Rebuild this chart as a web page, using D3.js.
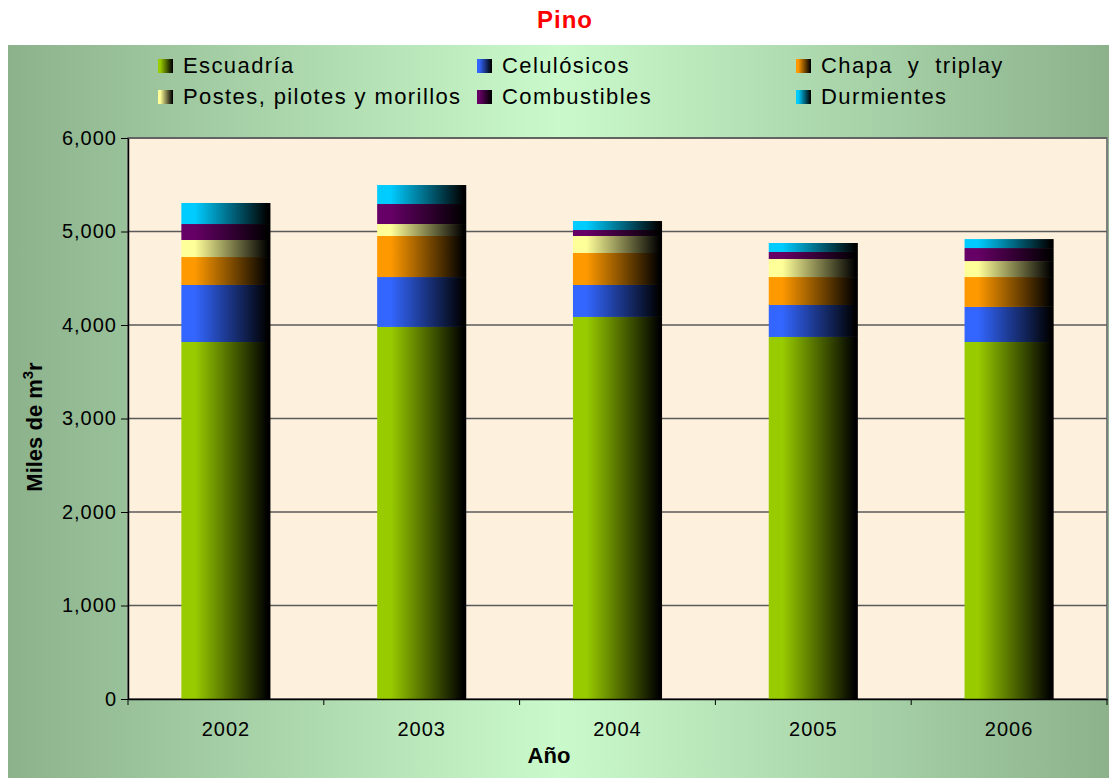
<!DOCTYPE html>
<html>
<head>
<meta charset="utf-8">
<script src="https://cdn.jsdelivr.net/npm/d3@7/dist/d3.min.js"></script>
<style>
  body { margin: 0; background: #fff; }
  text { font-family: Arial, "Liberation Sans", sans-serif; }
</style>
</head>
<body>
<div id="chart"></div>
<script>
// data (miles de m3r)
var years = ["2002", "2003", "2004", "2005", "2006"];
var seriesNames = ["Escuadría", "Celulósicos", "Chapa  y  triplay", "Postes, pilotes y morillos", "Combustibles", "Durmientes"];
var seriesColors = ["#99cc00", "#3366ff", "#ff9900", "#ffff99", "#660066", "#00ccff"];
var escuadria    = [3818, 3979, 4086, 3872, 3818];
var celulosicos  = [610, 534, 342, 342, 375];
var chapa        = [299, 439, 342, 299, 320];
var postes       = [182, 128, 182, 193, 171];
var combustibles = [171, 214, 64, 75, 139];
var durmientes   = [225, 203, 96, 96, 96];
var yTicks = [0, 1000, 2000, 3000, 4000, 5000, 6000];

var W = 1109, H = 778;
var margin = { top: 138, right: 2, bottom: 79, left: 128 };
var pw = W - margin.left - margin.right, ph = H - margin.top - margin.bottom;

var svg = d3.select("#chart").append("svg")
	.attr("width", W)
	.attr("height", H);

var defs = svg.append("defs");

// outer green background
var bgGrad = defs.append("linearGradient").attr("id", "bgGrad")
	.attr("x1", "0%").attr("x2", "100%").attr("y1", "0%").attr("y2", "0%");
bgGrad.append("stop").attr("offset", "0%").attr("stop-color", "#8cb28c");
bgGrad.append("stop").attr("offset", "50%").attr("stop-color", "#cafacb");
bgGrad.append("stop").attr("offset", "100%").attr("stop-color", "#8cb28c");

// bar gradients, colour to black left to right
seriesColors.forEach(function(c, i) {
	var g = defs.append("linearGradient").attr("id", "grad" + i)
		.attr("x1", "0%").attr("x2", "100%").attr("y1", "0%").attr("y2", "0%");
	g.append("stop").attr("offset", "0%").attr("stop-color", c);
	g.append("stop").attr("offset", "15%").attr("stop-color", c);
	g.append("stop").attr("offset", "97%").attr("stop-color", "#000");
	g.append("stop").attr("offset", "100%").attr("stop-color", "#000");
});

svg.append("rect")
	.attr("x", 8).attr("y", 45)
	.attr("width", W - 8).attr("height", H - 45)
	.style("fill", "url(#bgGrad)");

// title
svg.append("text")
	.attr("x", 565).attr("y", 28)
	.attr("text-anchor", "middle")
	.style("font-size", "24px")
	.style("font-weight", "bold")
	.style("letter-spacing", "1px")
	.style("fill", "#ff0000")
	.text("Pino");

// legend
var legendCols = [158, 477, 796], legendRows = [73, 104];
var legend = svg.append("g").attr("class", "legend");
seriesNames.forEach(function(name, i) {
	var lx = legendCols[i % 3], ly = legendRows[Math.floor(i / 3)];
	legend.append("rect")
		.attr("x", lx).attr("y", ly - 14)
		.attr("width", 15).attr("height", 14)
		.style("fill", "url(#grad" + i + ")");
	legend.append("text")
		.attr("x", lx + 25).attr("y", ly)
		.style("font-size", "22px")
		.style("letter-spacing", "1.4px")
		.style("white-space", "pre")
		.style("fill", "#000")
		.text(name);
});

var plot = svg.append("g")
	.attr("transform", "translate(" + margin.left + "," + margin.top + ")");

plot.append("rect")
	.attr("width", pw).attr("height", ph)
	.style("fill", "#fdf0dd")
	.style("stroke", "#808080")
	.style("stroke-width", 2);

var x = d3.scaleBand().domain(years).range([0, pw]).padding(0);
var y = d3.scaleLinear().domain([0, 6000]).range([ph, 0]);

// gridlines
plot.selectAll(".grid")
	.data(yTicks.slice(1))
	.enter().append("line")
	.attr("class", "grid")
	.attr("x1", 0).attr("x2", pw)
	.attr("y1", function(d) { return y(d); })
	.attr("y2", function(d) { return y(d); })
	.style("stroke", "#5a5a5a")
	.style("stroke-width", 1.3);

// stacked bars
var rows = years.map(function(yr, i) {
	return { year: yr, s0: escuadria[i], s1: celulosicos[i], s2: chapa[i], s3: postes[i], s4: combustibles[i], s5: durmientes[i] };
});
var stack = d3.stack().keys(["s0", "s1", "s2", "s3", "s4", "s5"]);
var layers = stack(rows);
var barW = x.bandwidth() * 0.455;

plot.selectAll(".layer")
	.data(layers)
	.enter().append("g")
	.attr("class", "layer")
	.style("fill", function(d, i) { return "url(#grad" + i + ")"; })
	.selectAll("rect")
	.data(function(d) { return d; })
	.enter().append("rect")
	.attr("x", function(d) { return x(d.data.year) + (x.bandwidth() - barW) / 2; })
	.attr("width", barW)
	.attr("y", function(d) { return y(d[1]); })
	.attr("height", function(d) { return y(d[0]) - y(d[1]); });

// y axis
var yAxis = plot.append("g")
	.call(d3.axisLeft(y).tickValues(yTicks).tickFormat(d3.format(",")).tickSize(7).tickSizeOuter(0));
yAxis.select(".domain").style("stroke", "#000").style("stroke-width", 1.5);
yAxis.selectAll(".tick line").style("stroke", "#000");
yAxis.selectAll("text")
	.attr("x", -11)
	.style("font-size", "20px")
	.style("letter-spacing", "1px")
	.style("font-family", "Arial, 'Liberation Sans', sans-serif")
	.style("fill", "#000");

// x axis with ticks on band edges
var xAxis = plot.append("g")
	.attr("transform", "translate(0," + ph + ")")
	.call(d3.axisBottom(x).tickSize(0).tickSizeOuter(0));
xAxis.select(".domain").style("stroke", "#000").style("stroke-width", 1.5);
xAxis.selectAll("text")
	.attr("y", 23)
	.attr("dy", "0.71em")
	.style("font-size", "20px")
	.style("letter-spacing", "1px")
	.style("font-family", "Arial, 'Liberation Sans', sans-serif")
	.style("fill", "#000");
xAxis.selectAll(".edge")
	.data(d3.range(years.length + 1))
	.enter().append("line")
	.attr("class", "edge")
	.attr("x1", function(d) { return d * x.step(); })
	.attr("x2", function(d) { return d * x.step(); })
	.attr("y1", 0).attr("y2", 6)
	.style("stroke", "#000");

// axis titles
svg.append("text")
	.attr("x", 549).attr("y", 763)
	.attr("text-anchor", "middle")
	.style("font-size", "22px")
	.style("font-weight", "bold")
	.text("Año");

var yTitle = svg.append("text")
	.attr("transform", "translate(42,427) rotate(-90)")
	.attr("text-anchor", "middle")
	.style("font-size", "22px")
	.style("font-weight", "bold");
yTitle.append("tspan").text("Miles de m");
yTitle.append("tspan").attr("dy", -9).style("font-size", "15px").text("3");
yTitle.append("tspan").attr("dy", 9).text("r");
</script>
</body>
</html>
